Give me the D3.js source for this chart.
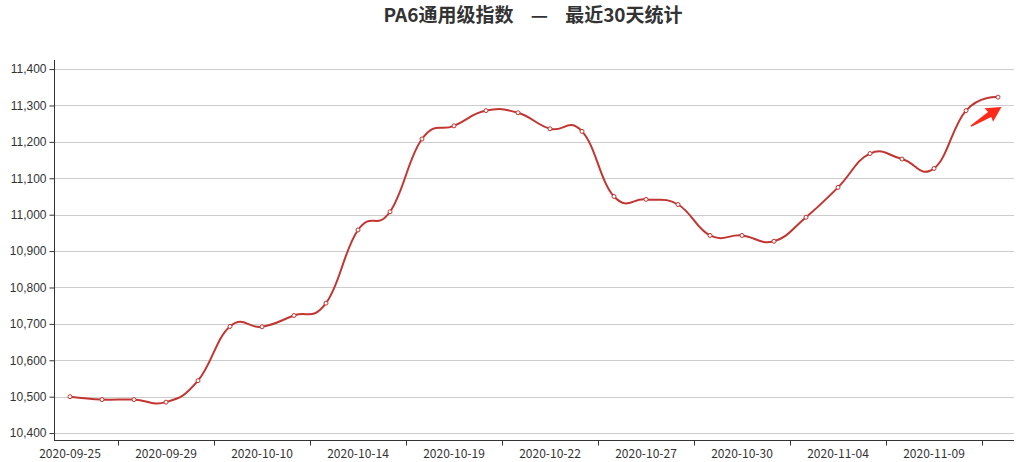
<!DOCTYPE html>
<html>
<head>
<meta charset="utf-8">
<script src="https://cdn.jsdelivr.net/npm/d3@7"></script>
<style>
  body { margin: 0; background: #fff; }
  svg { display: block; font-family: "Microsoft YaHei", "Noto Sans CJK SC", sans-serif; }
</style>
</head>
<body>
<svg id="chart" width="1022" height="462"></svg>
<script>
// trading days (China, incl. make-up workdays 09-27 and 10-10)
const dates = [
  "2020-09-25", "2020-09-27", "2020-09-28", "2020-09-29", "2020-09-30",
  "2020-10-09", "2020-10-10", "2020-10-12", "2020-10-13", "2020-10-14",
  "2020-10-15", "2020-10-16", "2020-10-19", "2020-10-20", "2020-10-21",
  "2020-10-22", "2020-10-23", "2020-10-26", "2020-10-27", "2020-10-28",
  "2020-10-29", "2020-10-30", "2020-11-02", "2020-11-03", "2020-11-04",
  "2020-11-05", "2020-11-06", "2020-11-09", "2020-11-10", "2020-11-11"
];
const values = [
  10500, 10492, 10492, 10485, 10544,
  10693, 10692, 10723, 10757, 10958,
  11008, 11208, 11244, 11286, 11280,
  11236, 11229, 11050, 11042, 11028,
  10943, 10943, 10927, 10993, 11075,
  11168, 11153, 11127, 11286, 11323
];
const yTicks = [10400, 10500, 10600, 10700, 10800, 10900, 11000, 11100, 11200, 11300, 11400];
const yDomain = [10381, 11425];
const labelEvery = 3;

const title = "PA6通用级指数    —    最近30天统计";
const lineColor = "#c23531";

const svg = d3.select("#chart");
const margin = { top: 60, right: 8, bottom: 22, left: 54 };
const width = 1022, height = 462;

const x = d3.scaleBand().domain(dates).range([margin.left, width - margin.right]);
const y = d3.scaleLinear().domain(yDomain).range([height - margin.bottom, margin.top]);
const cx = (d) => x(d) + x.bandwidth() / 2;

// title
svg.append("text")
  .attr("x", 533)
  .attr("y", 22)
  .attr("text-anchor", "middle")
  .attr("font-size", 19)
  .attr("font-weight", "bold")
  .attr("fill", "#333")
  .style("white-space", "pre")
  .text(title);

// grid lines
svg.append("g")
  .selectAll("line")
  .data(yTicks)
  .join("line")
  .attr("x1", margin.left)
  .attr("x2", width - margin.right)
  .attr("y1", (d) => Math.round(y(d)) + 0.5)
  .attr("y2", (d) => Math.round(y(d)) + 0.5)
  .attr("stroke", "#ccc");

// y axis
const yAxis = svg.append("g")
  .attr("transform", `translate(${margin.left + 0.5},0)`)
  .call(d3.axisLeft(y).tickValues(yTicks).tickSize(5).tickPadding(3).tickFormat(d3.format(",")));
yAxis.select(".domain").attr("stroke", "#333").attr("d", `M-0,${y.range()[0]}V${y.range()[1]}`);
yAxis.selectAll(".tick line").attr("stroke", "#333");
yAxis.selectAll(".tick text").attr("fill", "#333").attr("font-size", 12).attr("font-family", null);

// x axis (labels every 3rd day, ticks between bands)
const xg = svg.append("g").attr("transform", `translate(0,${height - margin.bottom + 0.5})`);
xg.append("line")
  .attr("x1", margin.left)
  .attr("x2", width - margin.right)
  .attr("stroke", "#333");
const tickDates = dates.filter((d, i) => i % labelEvery === 1);
xg.selectAll(".xtick")
  .data(tickDates)
  .join("line")
  .attr("class", "xtick")
  .attr("x1", (d) => Math.round(x(d) + x.bandwidth()) + 0.5)
  .attr("x2", (d) => Math.round(x(d) + x.bandwidth()) + 0.5)
  .attr("y2", 5)
  .attr("stroke", "#333");
xg.selectAll(".xlabel")
  .data(dates.filter((d, i) => i % labelEvery === 0))
  .join("text")
  .attr("class", "xlabel")
  .attr("x", cx)
  .attr("y", 17)
  .attr("text-anchor", "middle")
  .attr("font-size", 12)
  .attr("fill", "#333")
  .text((d) => d);

// smooth line
const line = d3.line()
  .x((d, i) => cx(dates[i]))
  .y((d) => y(d))
  .curve(d3.curveCardinal.tension(-0.3));

svg.append("path")
  .datum(values)
  .attr("fill", "none")
  .attr("stroke", lineColor)
  .attr("stroke-width", 2)
  .attr("d", line);

// point markers
svg.append("g")
  .selectAll("circle")
  .data(values)
  .join("circle")
  .attr("cx", (d, i) => cx(dates[i]))
  .attr("cy", (d) => y(d))
  .attr("r", 2)
  .attr("fill", "#fff")
  .attr("stroke", lineColor)
  .attr("stroke-width", 1);

// trend arrow next to the last point
const last = values.length - 1;
const ax = cx(dates[last]), ay = y(values[last]);
svg.append("path")
  .attr("transform", `translate(${ax - 27},${ay + 29}) rotate(-32)`)
  .attr("d", "M0,-0.8 L22,-3 L21,-8 L36,0 L21,8 L22,3 L0,0.8 Z")
  .attr("fill", "#ff2a1a");
</script>
</body>
</html>
